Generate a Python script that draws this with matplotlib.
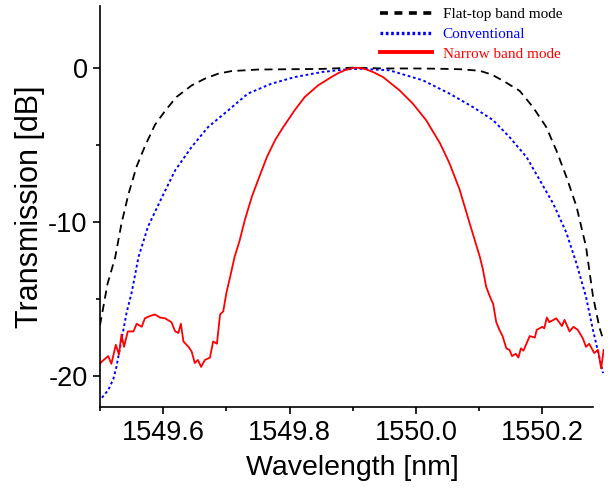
import matplotlib
matplotlib.use('Agg')
import matplotlib.pyplot as plt
from matplotlib.lines import Line2D
from matplotlib.ticker import MultipleLocator

# Flat-top band mode (black dashed)
flat_x = [1549.500, 1549.512, 1549.524, 1549.534, 1549.545, 1549.558, 1549.571, 1549.587,
          1549.603, 1549.621, 1549.645, 1549.666, 1549.687, 1549.708, 1549.750, 1549.800,
          1549.850, 1549.900, 1549.950, 1550.000, 1550.038, 1550.070, 1550.101, 1550.120,
          1550.138, 1550.164, 1550.185, 1550.206, 1550.222, 1550.238, 1550.254, 1550.269,
          1550.280, 1550.290, 1550.296]
flat_y = [-16.7, -14.0, -12.3, -10.1, -8.2, -6.4, -5.1, -3.7,
          -2.8, -1.9, -1.15, -0.71, -0.39, -0.22, -0.12, -0.1,
          -0.08, 0.0, -0.05, -0.05, -0.07, -0.1, -0.2, -0.45,
          -0.85, -1.5, -2.55, -3.84, -5.35, -7.08, -9.0, -11.6,
          -14.8, -16.8, -17.6]

# Conventional (blue dotted)
conv_x = [1549.503, 1549.513, 1549.521, 1549.526, 1549.534, 1549.542, 1549.550, 1549.561,
          1549.576, 1549.598, 1549.619, 1549.645, 1549.671, 1549.703, 1549.734, 1549.771,
          1549.808, 1549.851, 1549.892, 1549.911, 1549.958, 1550.011, 1550.053, 1550.090,
          1550.122, 1550.148, 1550.175, 1550.196, 1550.217, 1550.238, 1550.254, 1550.269,
          1550.280, 1550.296]
conv_y = [-21.4, -20.9, -20.2, -19.4, -17.65, -15.9, -14.6, -12.26,
          -10.3, -8.4, -6.65, -5.14, -3.85, -2.76, -1.68, -1.04,
          -0.61, -0.28, -0.1, -0.07, -0.17, -0.82, -1.68, -2.55,
          -3.4, -4.5, -5.8, -7.3, -8.8, -10.7, -12.7, -14.85,
          -17.0, -19.8]

# Narrow band mode (red solid)
narrow_x = [1549.500, 1549.503, 1549.513, 1549.518, 1549.525, 1549.530, 1549.534, 1549.538,
            1549.544, 1549.553, 1549.558, 1549.566, 1549.571, 1549.579, 1549.587, 1549.595,
            1549.603, 1549.613, 1549.619, 1549.624, 1549.628, 1549.632, 1549.640, 1549.645,
            1549.650, 1549.655, 1549.660, 1549.666, 1549.674, 1549.679, 1549.685, 1549.690,
            1549.695, 1549.700, 1549.706, 1549.713, 1549.721, 1549.729, 1549.740, 1549.750,
            1549.764, 1549.777, 1549.790, 1549.808, 1549.824, 1549.845, 1549.866, 1549.877,
            1549.887, 1549.897, 1549.905, 1549.913, 1549.922, 1549.933, 1549.948, 1549.974,
            1549.995, 1550.016, 1550.038, 1550.053, 1550.069, 1550.085, 1550.101, 1550.106,
            1550.111, 1550.118, 1550.122, 1550.127, 1550.132, 1550.137, 1550.143, 1550.148,
            1550.152, 1550.158, 1550.162, 1550.166, 1550.170, 1550.180, 1550.188, 1550.191,
            1550.200, 1550.203, 1550.207, 1550.211, 1550.222, 1550.231, 1550.235, 1550.243,
            1550.249, 1550.256, 1550.264, 1550.269, 1550.274, 1550.282, 1550.288, 1550.293,
            1550.297]
narrow_y = [-19.2, -19.05, -18.7, -19.2, -17.97, -18.6, -17.3, -18.1,
            -17.1, -17.1, -16.6, -16.8, -16.25, -16.1, -16.0, -16.2,
            -16.25, -16.5, -17.1, -17.2, -16.6, -17.75, -18.1, -18.4,
            -19.15, -18.95, -19.4, -18.95, -18.8, -17.75, -17.9, -16.0,
            -15.8, -14.6, -13.55, -12.26, -11.2, -9.9, -8.4, -7.3,
            -5.8, -4.7, -3.85, -2.76, -1.9, -1.15, -0.61, -0.35,
            -0.17, -0.05, 0.0, -0.03, -0.12, -0.3, -0.61, -1.47,
            -2.33, -3.4, -4.9, -6.2, -7.9, -10.1, -12.26, -13.1,
            -14.2, -14.95, -15.3, -16.5, -17.0, -17.4, -18.2, -18.3,
            -18.7, -18.55, -18.8, -18.2, -18.35, -17.4, -17.5, -17.0,
            -16.8, -16.9, -16.2, -16.5, -16.25, -16.75, -16.35, -17.1,
            -16.8, -17.0, -17.55, -18.1, -17.9, -18.5, -18.3, -19.5,
            -18.3]

labels = ['Flat-top band mode', 'Conventional', 'Narrow band mode']
colors = ['black', 'blue', 'red']

plt.rcParams['font.family'] = ['Liberation Sans', 'DejaVu Sans']

fig = plt.figure(figsize=(6.15, 4.9), dpi=100)
ax = fig.add_axes([100 / 615, 83 / 490, 504 / 615, 401 / 490])

ax.plot(flat_x, flat_y, color=colors[0], lw=1.3, linestyle=(0, (4.5, 3)))
ax.plot(conv_x, conv_y, color=colors[1], lw=1.4, linestyle=(0, (1.4, 1.4)))
ax.plot(narrow_x, narrow_y, color=colors[2], lw=1.3)

ax.set_xlim(1549.5, 1550.2975)
ax.set_ylim(-22, 4)
ax.spines['top'].set_visible(False)
ax.spines['right'].set_visible(False)
ax.spines['bottom'].set_bounds(1549.5, 1550.28)
for s in ['left', 'bottom']:
    ax.spines[s].set_linewidth(1.2)

ax.set_xticks([1549.6, 1549.8, 1550.0, 1550.2])
ax.set_xticklabels(['1549.6', '1549.8', '1550.0', '1550.2'])
ax.xaxis.set_minor_locator(MultipleLocator(0.1))
ax.set_yticks([-20, -10, 0])
ax.set_yticklabels(['-20', '-10', '0'])
ax.yaxis.set_minor_locator(MultipleLocator(5))
ax.tick_params(which='major', direction='out', length=5, width=1.2, labelsize=19.5, pad=4)
ax.tick_params(which='minor', direction='out', length=2.8, width=1.2)

ax.set_xlabel('Wavelength [nm]', fontsize=20.5, labelpad=7)
ax.set_ylabel('Transmission [dB]', fontsize=22, labelpad=2)

handles = [
    Line2D([], [], color=colors[0], lw=2.6, linestyle=(0, (2.2, 1.8))),
    Line2D([], [], color=colors[1], lw=2.4, linestyle=(0, (0.8, 0.8))),
    Line2D([], [], color=colors[2], lw=2.8),
]
leg = fig.legend(handles, labels, loc='upper left', bbox_to_anchor=(380 / 615, 0.985),
                 frameon=False, borderpad=0, borderaxespad=0, handlelength=3.4,
                 handletextpad=0.7, labelspacing=0.4,
                 prop={'family': 'Liberation Serif', 'size': 11})
for txt, c in zip(leg.get_texts(), colors):
    txt.set_color(c)

fig.savefig('out.png', dpi=100)
